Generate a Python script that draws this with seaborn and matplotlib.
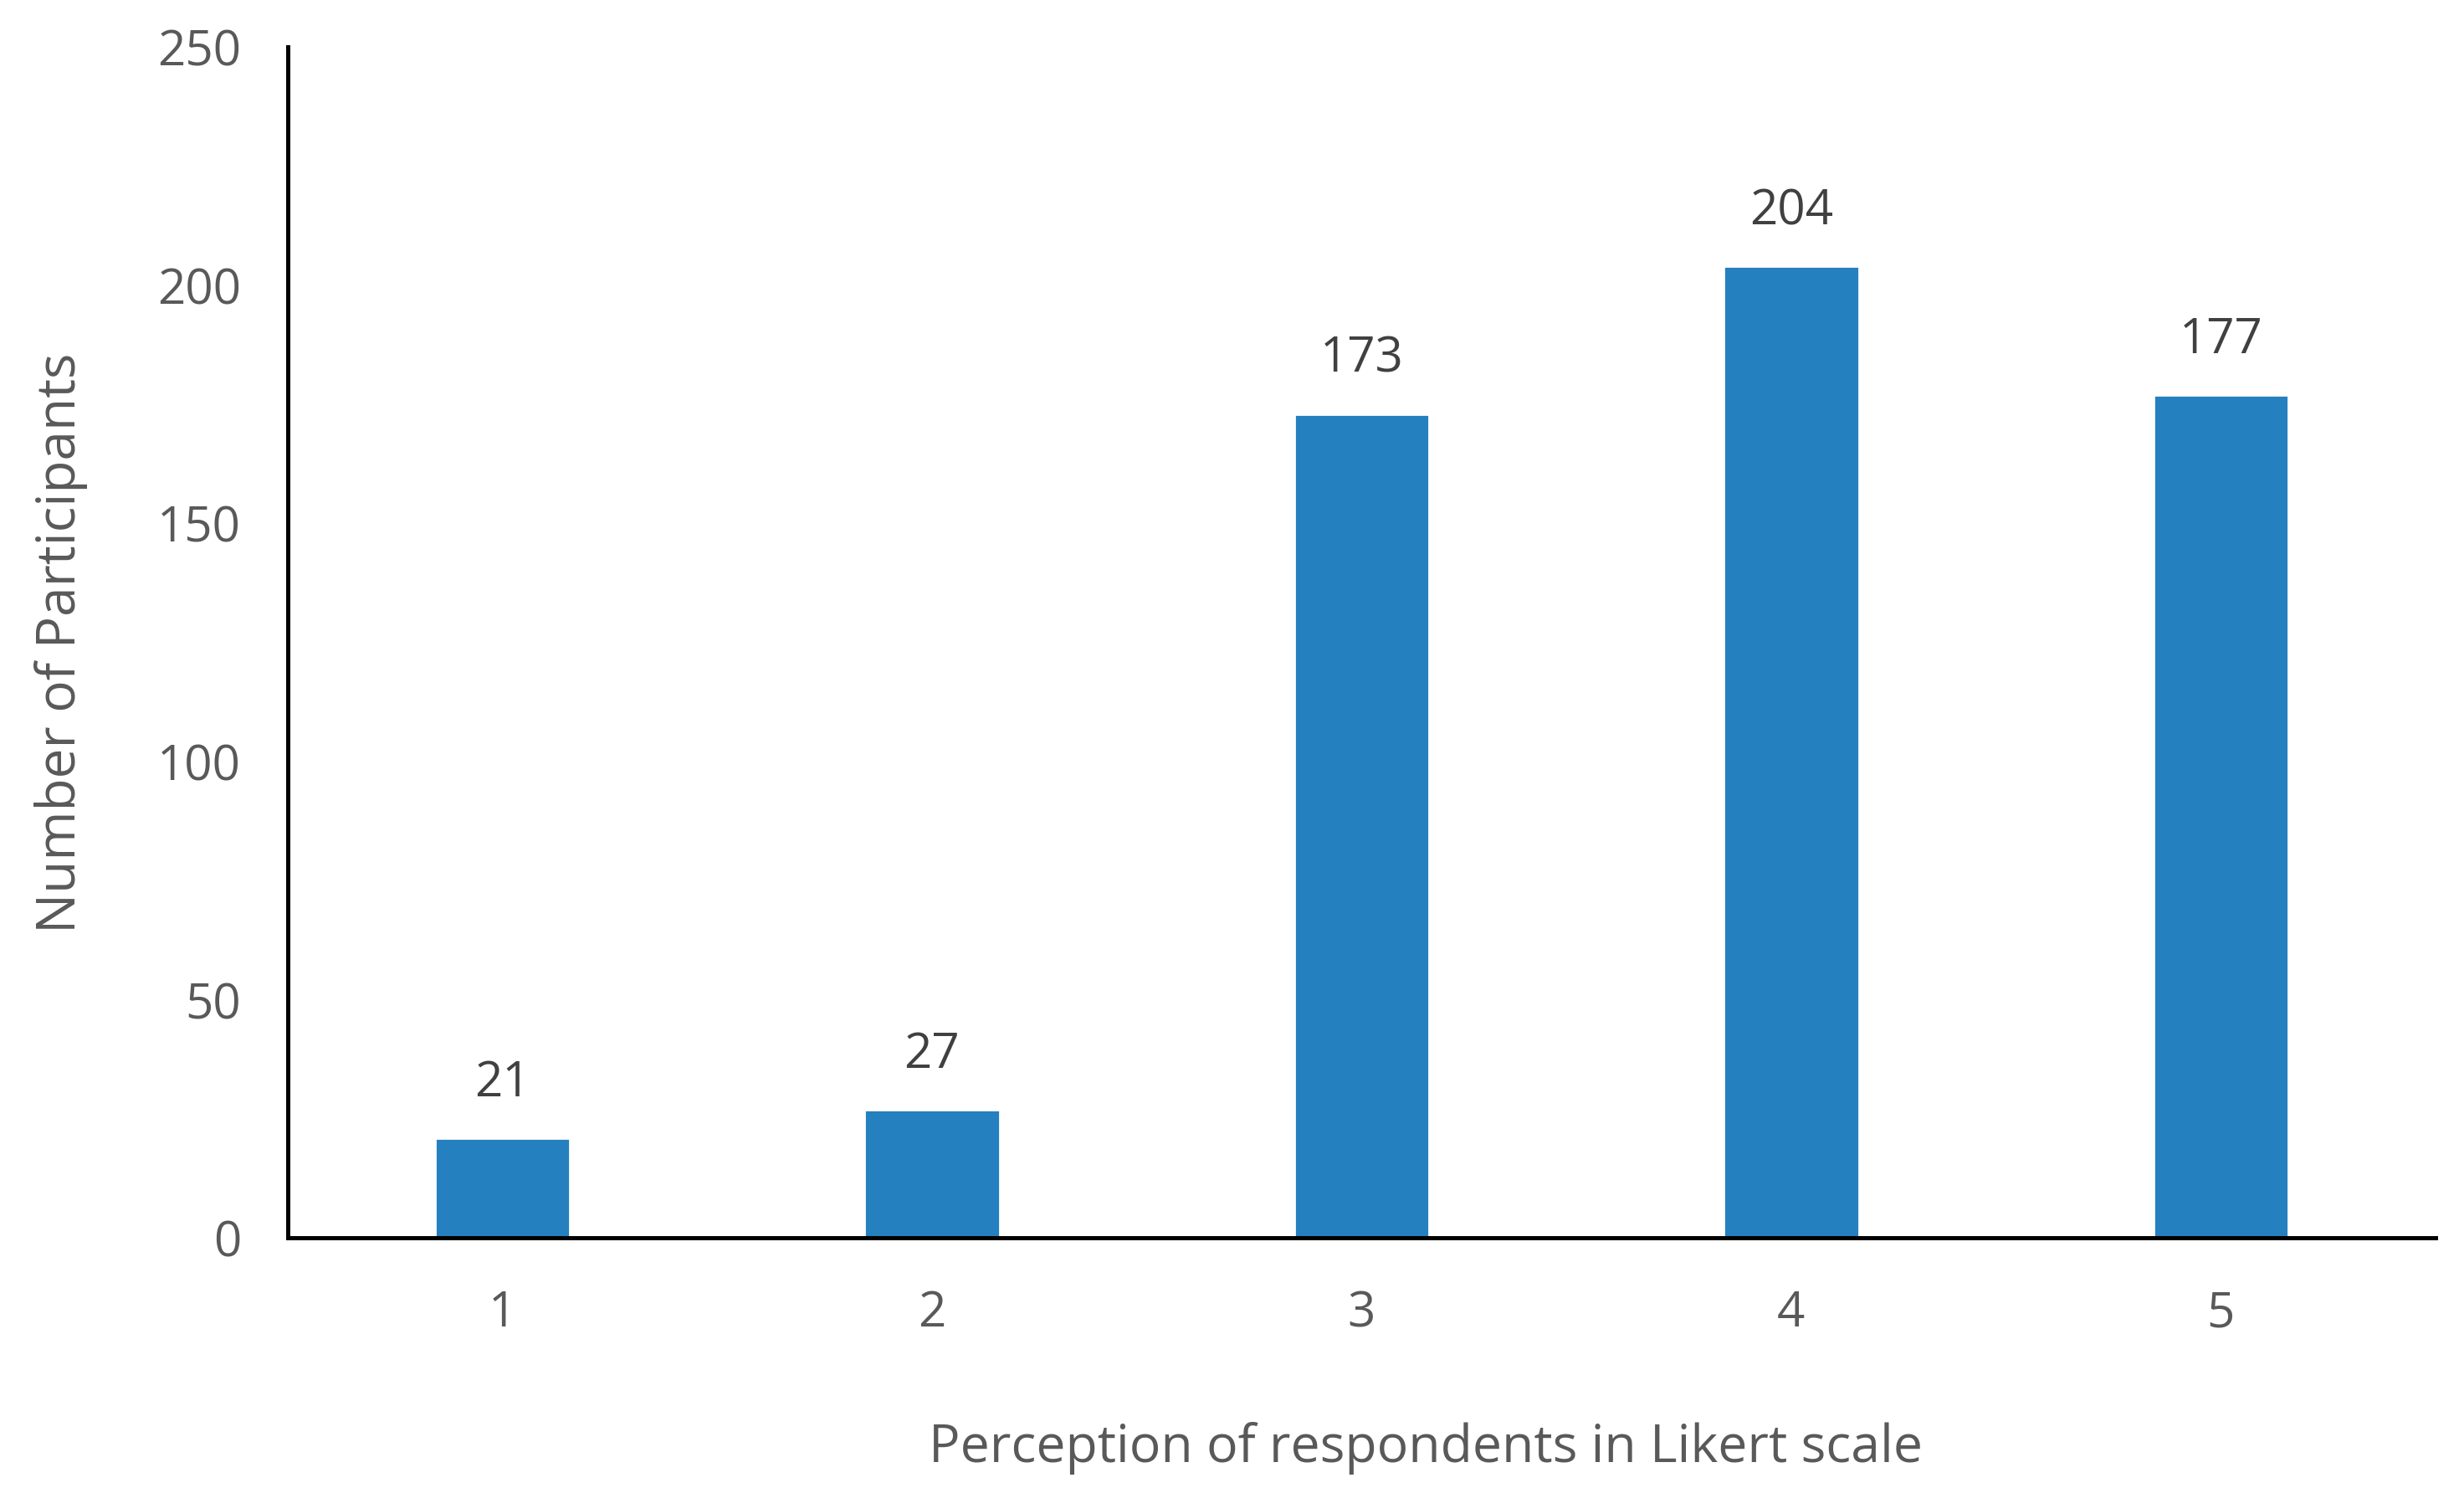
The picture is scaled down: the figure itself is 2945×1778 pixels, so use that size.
import matplotlib
matplotlib.use("Agg")
import matplotlib.pyplot as plt
import seaborn as sns

# Likert scale categories and number of participants
likert_levels = ["1", "2", "3", "4", "5"]
participants = [21, 27, 173, 204, 177]
y_ticks = [0, 50, 100, 150, 200, 250]

sns.set_style("white")
plt.rcParams["font.family"] = ["Open Sans", "DejaVu Sans"]

text_grey = "#595959"
bar_blue = "#2580BF"

fig = plt.figure(figsize=(14.725, 8.89), dpi=200)
ax = fig.add_axes([0.1167, 0.1679, 0.8718, 0.8004])

sns.barplot(x=likert_levels, y=participants, color=bar_blue, width=0.315,
            saturation=1, ax=ax)

# value labels above bars
ax.bar_label(ax.containers[0], labels=[str(v) for v in participants],
             padding=13, fontsize=21, color="#404040")

ax.set_xlim(-0.5, 4.5)
ax.set_ylim(0, 250)
ax.set_yticks(y_ticks)
ax.set_yticklabels([str(t) for t in y_ticks])

ax.tick_params(axis="both", length=0, labelsize=21, labelcolor=text_grey)
ax.tick_params(axis="y", pad=20)
ax.tick_params(axis="x", pad=22)

ax.set_xlabel("Perception of respondents in Likert scale", fontsize=22.5,
              color=text_grey, labelpad=36)
ax.xaxis.label.set_x(0.53)  # title sits a bit right of centre in the original
ax.set_ylabel("Number of Participants", fontsize=23, color=text_grey,
              labelpad=30)

for side in ["top", "right"]:
    ax.spines[side].set_visible(False)
for side in ["left", "bottom"]:
    ax.spines[side].set_color("black")
    ax.spines[side].set_linewidth(1.8)

fig.savefig("out.png", dpi=200, facecolor="white")
